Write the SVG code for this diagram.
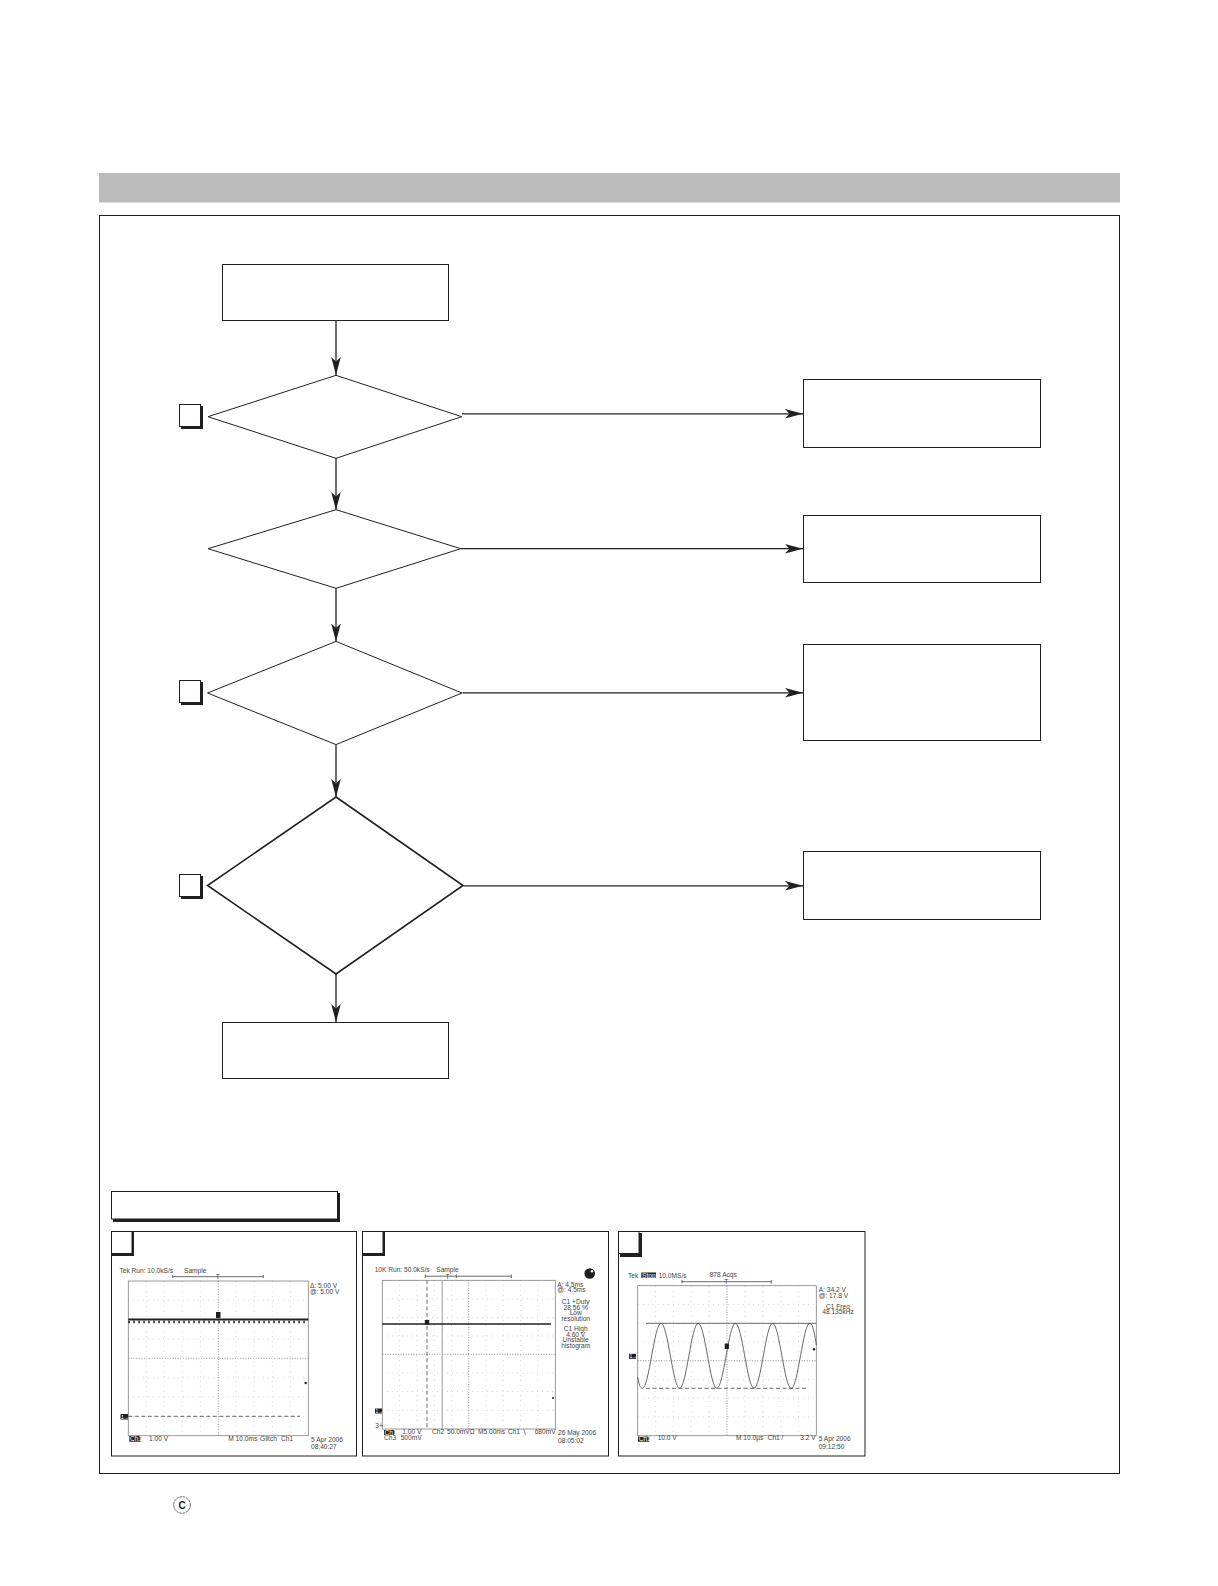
<svg xmlns="http://www.w3.org/2000/svg" width="1218" height="1586" viewBox="0 0 1218 1586">
<style>
.n{fill:#fff;stroke:#231f20;stroke-width:1}
.thick{fill:#fff;stroke:#231f20;stroke-width:1.6}
.c{fill:none;stroke:#231f20;stroke-width:1.3;marker-end:url(#arrow)}
.sh{fill:#231f20}
.fr{fill:none;stroke:#808080;stroke-width:.8}
.g{fill:none;stroke:#c8c8c8;stroke-width:.7;stroke-dasharray:1 4}
.m{fill:none;stroke:#777;stroke-width:.8;stroke-dasharray:1 1.6}
.t{font-family:"Liberation Sans",Arial,sans-serif;font-size:6.6px;fill:#444}
.e{text-anchor:middle}
.w{fill:#fff}
.tr{font-size:5px}
.b{fill:#231f20}
.l{fill:none;stroke:#444;stroke-width:.8}
.d{fill:none;stroke:#444;stroke-width:.8;stroke-dasharray:4 2.5}
</style>
<defs>
<marker id="arrow" markerUnits="userSpaceOnUse" markerWidth="20" markerHeight="12" refX="18" refY="6" orient="auto"><path d="M18 6L0 1.2L4.5 6L0 10.8Z" fill="#231f20"/></marker>
</defs>
<rect width="1218" height="1586" fill="#fff"/>
<rect id="header-bar" x="99" y="173" width="1021" height="29.500" fill="#bbbbbb"/>
<rect id="frame" x="99.500" y="215.500" width="1020" height="1258" fill="#fff" stroke="#231f20" stroke-width="1"/>

<g id="connectors">
<path class="c" d="M336 320.500V375"/>
<path class="c" d="M336 458V510"/>
<path class="c" d="M336 588V641.500"/>
<path class="c" d="M336 744.500V797"/>
<path class="c" d="M336 974V1022"/>
<path class="c" d="M462 413.800H803"/>
<path class="c" d="M461 548.700H803"/>
<path class="c" d="M462.500 692.800H803"/>
<path class="c" d="M463.500 885.800H803"/>
</g>

<g id="start"><rect class="n" x="222.500" y="264.500" width="226" height="56"/></g>
<g id="decision-1"><path class="n" d="M336 375.300L461.700 416.700L336 458.300L208 416.700Z"/></g>
<g id="decision-2"><path class="n" d="M336 509.700L460.700 548.700L336 588.300L208 548.700Z"/></g>
<g id="decision-3"><path class="n" d="M336 641.400L462 693L336 744.600L207.500 693Z"/></g>
<g id="decision-4"><path class="thick" d="M336 797L463 885.500L336 974L207.500 885.500Z"/></g>
<g id="result-1"><rect class="n" x="803.500" y="379.500" width="237" height="68"/></g>
<g id="result-2"><rect class="n" x="803.500" y="515.500" width="237" height="67"/></g>
<g id="result-3"><rect class="n" x="803.500" y="644.500" width="237" height="96"/></g>
<g id="result-4"><rect class="n" x="803.500" y="851.500" width="237" height="68"/></g>
<g id="end"><rect class="n" x="222.500" y="1022.500" width="226" height="56"/></g>

<g id="tag-a"><rect class="sh" x="181" y="406" width="22" height="23"/><rect class="n" x="179.500" y="404.500" width="21" height="22"/></g>
<g id="tag-b"><rect class="sh" x="181" y="682" width="22" height="23"/><rect class="n" x="179.500" y="680.500" width="21" height="22"/></g>
<g id="tag-c"><rect class="sh" x="181" y="876" width="22" height="23"/><rect class="n" x="179.500" y="874.500" width="21" height="22"/></g>

<g id="waveform-title"><rect class="sh" x="113" y="1193" width="227" height="29"/><rect class="n" x="111.500" y="1191.500" width="226" height="27.500"/></g>

<g id="panel-1">
<rect class="n" x="111.500" y="1231.500" width="245" height="224.500"/>
<rect class="sh" x="112" y="1232" width="22" height="24"/><rect class="n" x="111.500" y="1231.500" width="20.500" height="22"/>
<path class="g" d="M146.300 1281V1436M164.300 1281V1436M182.300 1281V1436M200.300 1281V1436M236.300 1281V1436M254.300 1281V1436M272.300 1281V1436M290.300 1281V1436M128 1300.300H308M128 1319.700H308M128 1339H308M128 1377.700H308M128 1397H308M128 1416.300H308"/>
<path class="m" d="M218.300 1281V1436M128.300 1358.300H308.300"/>
<rect class="fr" x="128.300" y="1281" width="180" height="154.700"/>
<path d="M128.300 1319.500H308.300" stroke="#231f20" stroke-width="2" fill="none"/>
<path d="M128.300 1322H308.300" stroke="#231f20" stroke-width="2.500" stroke-dasharray="1.500 3.500" fill="none"/>
<rect class="b" x="216" y="1312" width="4.500" height="6"/>
<path class="d" d="M128.300 1416.300H300"/>
<rect class="b" x="120.500" y="1414" width="7.500" height="5.500"/>
<text class="t w tr" x="121" y="1418.500">1→</text>
<circle class="b" cx="305.700" cy="1383" r="1.200"/>
<path class="l" d="M172.700 1275V1278M172.700 1276.700H263.300M263.300 1275V1278"/>
<text class="t" x="119.500" y="1273">Tek Run: 10.0kS/s</text>
<text class="t" x="184" y="1273">Sample</text>
<text class="t" x="215.800" y="1279">T</text>
<text class="t" x="310" y="1288.300">Δ: 5.00 V</text>
<text class="t" x="310" y="1294">@: 5.00 V</text>
<rect class="b" x="129.300" y="1436" width="11.400" height="5.700"/>
<text class="t w" x="130" y="1441">Ch1</text>
<text class="t" x="149" y="1440.500">1.00 V</text>
<text class="t" x="228.300" y="1440.500">M 10.0ms</text>
<text class="t" x="260" y="1440.500">Glitch</text>
<text class="t" x="281" y="1440.500">Ch1</text>
<text class="t" x="311" y="1441.700">5 Apr 2006</text>
<text class="t" x="311" y="1449.300">08:40:27</text>
</g>

<g id="panel-2">
<rect class="n" x="362.500" y="1231.500" width="246" height="224.500"/>
<rect class="sh" x="363" y="1232" width="22" height="24"/><rect class="n" x="362.500" y="1231.500" width="20.500" height="22"/>
<path class="g" d="M399.600 1280V1429M416.900 1280V1429M434.200 1280V1429M451.500 1280V1429M486 1280V1429M503.300 1280V1429M520.600 1280V1429M537.900 1280V1429M382 1299H555M382 1317.600H555M382 1336H555M382 1373H555M382 1391.500H555M382 1410.300H555"/>
<path class="m" d="M468.700 1280V1429M382.300 1354.300H555.300"/>
<rect class="fr" x="382.300" y="1280.300" width="173" height="148.700"/>
<path d="M427 1280.300V1429" class="d"/>
<path d="M442.300 1280.300V1429" stroke="#aaa" stroke-width="1.200" fill="none"/>
<path d="M382.300 1324H551" stroke="#231f20" stroke-width="1.600" fill="none"/>
<rect class="b" x="424.800" y="1320" width="4.400" height="4.500"/>
<rect class="b" x="375" y="1408.500" width="7" height="5"/>
<text class="t w tr" x="375.500" y="1412.800">1→</text>
<text class="t" x="375.300" y="1428">3+</text>
<circle class="b" cx="553" cy="1398" r="1"/>
<circle class="b" cx="589.700" cy="1273.500" r="5.300"/>
<circle class="w" cx="592" cy="1271.300" r="1.200"/>
<path class="l" d="M425.300 1274.500V1278M425.300 1276.200H511.300M511.300 1274.500V1278M456.300 1274.500V1278"/>
<text class="t" x="374.700" y="1271.700">10K Run: 50.0kS/s</text>
<text class="t" x="436.300" y="1271.700">Sample</text>
<text class="t" x="445.500" y="1279">T</text>
<text class="t" x="557.300" y="1286.700">A: 4.5ms</text>
<text class="t" x="557.300" y="1292.300">@: 4.5ms</text>
<g class="e">
<text class="t" x="575.700" y="1304.300">C1 +Duty</text>
<text class="t" x="575.700" y="1309.700">28.56 %</text>
<text class="t" x="575.700" y="1315">Low</text>
<text class="t" x="575.700" y="1321">resolution</text>
<text class="t" x="575.700" y="1331.300">C1 High</text>
<text class="t" x="575.700" y="1336.700">4.60 V</text>
<text class="t" x="575.700" y="1342">Unstable</text>
<text class="t" x="575.700" y="1348.300">histogram</text>
</g>
<rect class="b" x="384" y="1430" width="10.700" height="5"/>
<text class="t w" x="384.500" y="1434.800">Ch1</text>
<text class="t" x="402.300" y="1433.700">1.00 V</text>
<text class="t" x="384" y="1440.300">Ch3</text>
<text class="t" x="400.700" y="1440.300">500mV</text>
<text class="t" x="432" y="1433.700">Ch2</text>
<text class="t" x="447" y="1433.700">50.0mVΩ</text>
<text class="t" x="478" y="1433.700">M5.00ms</text>
<text class="t" x="508" y="1433.700">Ch1 ∖</text>
<text class="t" x="534.700" y="1433.700">680mV</text>
<text class="t" x="558" y="1435">26 May 2006</text>
<text class="t" x="558" y="1442.700">08:05:02</text>
</g>

<g id="panel-3">
<rect class="n" x="618.500" y="1231.500" width="246.500" height="224.500"/>
<rect class="sh" x="620" y="1233" width="22" height="24"/><rect class="n" x="618.500" y="1231.500" width="20.500" height="22"/>
<path class="g" d="M655.500 1286V1436M673.400 1286V1436M691.300 1286V1436M709.200 1286V1436M745 1286V1436M762.800 1286V1436M780.700 1286V1436M798.500 1286V1436M638 1304.500H816M638 1323.300H816M638 1342H816M638 1379.500H816M638 1398.300H816M638 1417H816"/>
<path class="m" d="M727 1286V1436M637.700 1360.700H816.300"/>
<rect class="fr" x="637.700" y="1285.700" width="178.600" height="150"/>
<path class="l" d="M646 1323.300H816"/>
<path class="d" d="M646 1388.300H808"/>
<path class="l" d="M637.700 1377C639 1384 640 1388.300 642.400 1388.300C649 1388.300 654.200 1323.300 661 1323.300C667.800 1323.300 673 1388.300 679.600 1388.300C686.400 1388.300 691.400 1323.300 698.200 1323.300C705 1323.300 710 1388.300 716.800 1388.300C723.600 1388.300 728.600 1323.300 735.400 1323.300C742.200 1323.300 747.200 1388.300 754 1388.300C760.800 1388.300 765.800 1323.300 772.600 1323.300C779.400 1323.300 784.400 1388.300 791.200 1388.300C798 1388.300 803 1323.300 809.800 1323.300C813 1323.300 815 1336 816.300 1345"/>
<rect class="b" x="724.700" y="1343.500" width="4.200" height="5.500"/>
<rect class="b" x="629" y="1353.800" width="7" height="5"/>
<text class="t w tr" x="629.500" y="1358">1→</text>
<circle class="b" cx="814" cy="1349.300" r="1.200"/>
<path class="l" d="M682 1280V1283.500M682 1281.700H771.300M771.300 1280V1283.500"/>
<text class="t" x="628" y="1277.500">Tek</text>
<rect class="b" x="641.300" y="1272.500" width="14.700" height="5.500"/>
<text class="t w" x="642" y="1277.500">Stop</text>
<text class="t" x="658.700" y="1277.500">10.0MS/s</text>
<text class="t" x="709.700" y="1277">878 Acqs</text>
<text class="t" x="724.300" y="1284">T</text>
<text class="t" x="818.700" y="1291.700">A: 34.2 V</text>
<text class="t" x="818.700" y="1297.700">@: 17.8 V</text>
<g class="e">
<text class="t" x="838" y="1309">C1 Freq</text>
<text class="t" x="838" y="1314.300">48.135kHz</text>
</g>
<rect class="b" x="638" y="1436.500" width="11.300" height="5.200"/>
<text class="t w" x="638.700" y="1441.400">Ch1</text>
<text class="t" x="657.700" y="1440.300">10.0 V</text>
<text class="t" x="736" y="1440.300">M 10.0µs</text>
<text class="t" x="767.700" y="1440.300">Ch1 /</text>
<text class="t" x="800.300" y="1440.300">3.2 V</text>
<text class="t" x="818.700" y="1441">5 Apr 2006</text>
<text class="t" x="818.700" y="1449">09:12:50</text>
</g>

<g id="copyright">
<circle cx="182" cy="1505" r="8.300" fill="none" stroke="#231f20" stroke-width=".7" stroke-dasharray="2.500 .8"/>
<text x="182" y="1508.500" text-anchor="middle" font-family="'Liberation Sans',Arial,sans-serif" font-size="10" font-weight="bold" fill="#231f20">C</text>
</g>
</svg>
